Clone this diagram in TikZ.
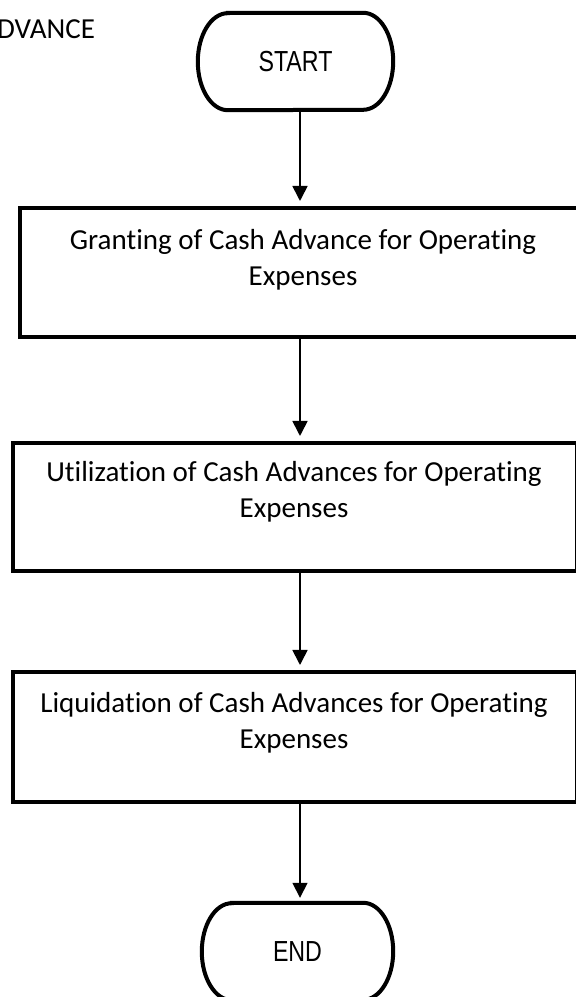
\documentclass[tikz,border=0pt]{standalone}
\usepackage{fontspec}
\setmainfont[Ligatures={NoCommon,NoRare,NoContextual}]{Carlito}
\newfontfamily\narrowsans[FakeStretch=0.8]{Liberation Sans}
\usetikzlibrary{arrows.meta,calc}
\newcommand\termoutline[1]{%
  \draw[termline] ($(#1.north west)+(30,0)$) -- ($(#1.north east)+(-30,0)$)
    arc[start angle=90,end angle=-90,x radius=30,y radius=48.5]
    -- ($(#1.south west)+(30,0)$)
    arc[start angle=270,end angle=90,x radius=30,y radius=48.5] -- cycle;}
\begin{document}
\begin{tikzpicture}[x=1pt,y=1pt,
  box/.style={draw, line width=4pt, inner sep=0pt},
  term/.style={inner sep=0pt, minimum height=97pt, font=\narrowsans\fontsize{29}{35}\selectfont},
  termline/.style={draw, line width=4pt},
  txt/.style={anchor=base, inner sep=0pt, font=\fontsize{29}{35}\selectfont},
  arr/.style={line width=1.7pt, -{Triangle[width=15pt,length=15pt]}, shorten >=5pt}]
\fill[white] (0,0) rectangle (576,997);
\useasboundingbox (0,0) rectangle (576,997);
\coordinate (axis) at (300,0);
% title fragment
\node[txt, anchor=base west] (title) at (-3,958) {DVANCE};
% terminals
\node[term, minimum width=195pt] (start) at (295.5,935.5) {START};
\termoutline{start}
\node[term, minimum width=191pt] (end) at (297.5,45.5) {END};
\termoutline{end}
% process boxes
\node[box, minimum width=580pt, minimum height=129pt] (b1) at (310,724.5) {};
\node[box, minimum width=563.5pt, minimum height=128pt] (b2) at (294.75,490) {};
\node[box, minimum width=563.5pt, minimum height=130pt] (b3) at (294.75,260) {};
% box texts
\node[txt] (b1a) at (303,747) {Granting of Cash Advance for Operating};
\node[txt] (b1b) at (303,711.5) {Expenses};
\node[txt] (b2a) at (294,515) {Utilization of Cash Advances for Operating};
\node[txt] (b2b) at (294,479.5) {Expenses};
\node[txt] (b3a) at (294,284) {Liquidation of Cash Advances for Operating};
\node[txt] (b3b) at (294,248.5) {Expenses};
% connectors
\draw[arr] (start.south -| axis) -- (b1.north -| axis);
\draw[arr] (b1.south -| axis) -- (b2.north -| axis);
\draw[arr] (b2.south -| axis) -- (b3.north -| axis);
\draw[arr] (b3.south -| axis) -- (end.north -| axis);
\end{tikzpicture}
\end{document}
